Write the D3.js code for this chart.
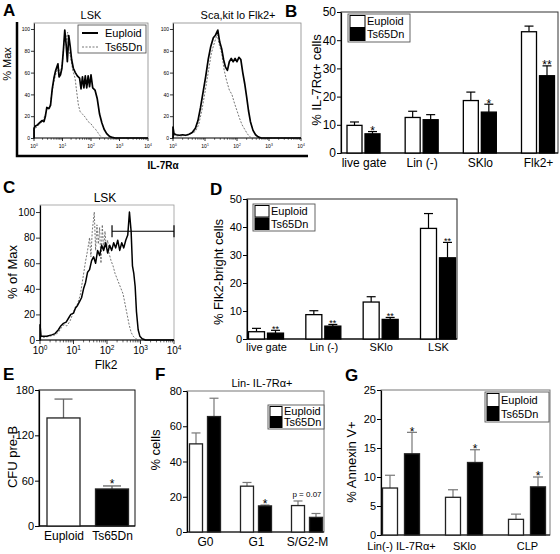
<!DOCTYPE html>
<html><head><meta charset="utf-8">
<script src="https://cdn.jsdelivr.net/npm/d3@7"></script>
<style>body{margin:0;background:#fff}svg{display:block;font-family:"Liberation Sans",Arial,sans-serif}</style>
</head><body>
<script>
// ---------------- DATA ----------------
// Panel A histograms: [log10(intensity), % of max]
const aLskEuploid = [[0,0],[0,9],[0.05,11],[0.12,12],[0.2,14],[0.28,16],[0.35,15],[0.4,20],[0.45,28],[0.52,27],[0.58,30],[0.64,45],[0.7,55],[0.76,62],[0.84,68],[0.88,56],[0.93,58],[0.98,64],[1.03,80],[1.08,99],[1.13,85],[1.17,70],[1.22,94],[1.27,84],[1.32,72],[1.38,64],[1.45,60],[1.52,57],[1.6,55],[1.65,45],[1.7,56],[1.75,46],[1.8,57],[1.85,46],[1.9,57],[1.95,47],[2.0,58],[2.06,46],[2.14,44],[2.22,36],[2.3,22],[2.38,14],[2.46,8],[2.55,4],[2.65,1.5],[2.75,0.5],[2.85,0],[4,0]];
const aLskTs65Dn = [[0,0],[0,8],[0.1,10],[0.2,13],[0.3,15],[0.4,22],[0.45,26],[0.55,27],[0.62,40],[0.7,52],[0.78,60],[0.85,65],[0.92,58],[1.0,70],[1.06,90],[1.12,88],[1.18,97],[1.22,80],[1.28,75],[1.36,62],[1.44,55],[1.5,42],[1.56,30],[1.62,24],[1.7,22],[1.8,19],[1.9,15],[2.0,13],[2.08,10],[2.16,8],[2.24,5],[2.3,2.5],[2.4,0.5],[2.5,0],[4,0]];
const aFlkEuploid = [[0,0],[0,10],[0.03,4],[0.1,3],[0.2,2.5],[0.3,3],[0.4,2.5],[0.5,3.5],[0.6,5],[0.7,9],[0.78,16],[0.86,28],[0.94,42],[1.02,56],[1.1,72],[1.18,84],[1.26,92],[1.32,94],[1.4,99],[1.46,88],[1.52,82],[1.58,72],[1.64,65],[1.7,62],[1.76,70],[1.82,73],[1.88,70],[1.94,73],[2.0,70],[2.06,74],[2.12,72],[2.18,60],[2.24,50],[2.3,38],[2.36,25],[2.42,15],[2.5,7],[2.58,3],[2.66,1],[2.76,0],[4,0]];
const aFlkTs65Dn = [[0,0],[0,3],[0.1,2],[0.3,2],[0.5,3],[0.7,6],[0.8,12],[0.9,25],[1.0,42],[1.1,60],[1.2,78],[1.3,88],[1.38,95],[1.45,85],[1.52,78],[1.6,62],[1.68,52],[1.76,44],[1.84,40],[1.92,32],[2.0,25],[2.08,18],[2.16,12],[2.24,8],[2.32,4],[2.4,1],[2.5,0],[4,0]];
// Panel C histograms
const cLskEuploid = [[0,0],[0,12],[0.03,3],[0.2,3],[0.35,4],[0.45,5],[0.55,8],[0.62,11],[0.7,13],[0.78,14],[0.85,17],[0.92,20],[1.0,21],[1.06,25],[1.12,27],[1.18,30],[1.24,33],[1.3,40],[1.36,45],[1.42,53],[1.48,55],[1.54,62],[1.6,65],[1.66,60],[1.72,70],[1.78,66],[1.84,74],[1.9,70],[1.96,76],[2.02,68],[2.08,74],[2.14,70],[2.2,76],[2.26,72],[2.32,78],[2.38,70],[2.44,76],[2.5,72],[2.56,78],[2.62,82],[2.67,100],[2.72,85],[2.76,58],[2.8,52],[2.84,42],[2.88,22],[2.93,8],[2.98,3],[3.05,1],[3.15,0],[4,0]];
const cLskTs65Dn = [[0,0],[0,3],[0.1,2],[0.3,3],[0.45,4],[0.55,6],[0.65,10],[0.72,12],[0.8,11],[0.9,15],[1.0,22],[1.06,26],[1.12,28],[1.2,35],[1.28,48],[1.35,60],[1.42,70],[1.48,80],[1.52,65],[1.56,85],[1.62,100],[1.66,70],[1.7,90],[1.74,75],[1.78,88],[1.82,60],[1.86,90],[1.9,70],[1.94,85],[1.98,72],[2.02,78],[2.06,68],[2.12,62],[2.18,58],[2.24,52],[2.3,48],[2.36,44],[2.42,40],[2.48,36],[2.54,28],[2.6,20],[2.66,12],[2.72,6],[2.78,3],[2.86,1],[2.95,0],[4,0]];
const cGate = [2.15, 4, 85];           // gate: from log, to log, at %
const histYTicks = [0, 20, 40, 60, 80, 100];
const histXTicks = [0, 1, 2, 3, 4];

// Panel B
const bCategories = ["live gate", "Lin (-)", "SKlo", "Flk2+"];
const bEuploid = [9.8, 12.6, 18.6, 43];
const bEuploidErr = [1.2, 2.2, 3.0, 2.0];
const bTs65Dn = [6.8, 11.8, 14.5, 27.4];
const bTs65DnErr = [0.8, 1.8, 2.8, 3.5];
const bStars = ["*", "", "*", "**"];
const bTicks = [0, 10, 20, 30, 40, 50];

// Panel D
const dCategories = ["live gate", "Lin (-)", "SKlo", "LSK"];
const dEuploid = [2.6, 8.7, 13.2, 39.5];
const dEuploidErr = [1.2, 1.4, 1.9, 5.3];
const dTs65Dn = [2.1, 4.6, 7.0, 29.0];
const dTs65DnErr = [1.0, 0.6, 0.7, 5.5];
const dStars = ["**", "**", "**", "**"];
const dTicks = [0, 10, 20, 30, 40, 50];

// Panel E
const eCategories = ["Euploid", "Ts65Dn"];
const eValues = [143, 49];
const eErr = [25, 4];
const eStars = ["", "*"];
const eTicks = [0, 60, 120, 180];

// Panel F
const fCategories = ["G0", "G1", "S/G2-M"];
const fEuploid = [50, 26, 15];
const fEuploidErr = [6.2, 2.1, 2.6];
const fTs65Dn = [65.5, 14.8, 8.3];
const fTs65DnErr = [10.4, 0.5, 2.2];
const fNotes = ["", "*", "p = 0.07"];
const fTicks = [0, 20, 40, 60, 80];

// Panel G
const gCategories = ["Lin(-) IL-7R\u03b1+", "SKlo", "CLP"];
const gEuploid = [8.1, 6.5, 2.7];
const gEuploidErr = [2.2, 1.3, 0.9];
const gTs65Dn = [14.0, 12.5, 8.3];
const gTs65DnErr = [3.7, 2.2, 1.7];
const gStars = ["*", "*", "*"];
const gTicks = [0, 5, 10, 15, 20, 25];

const legendNames = ["Euploid", "Ts65Dn"];

// ---------------- DRAW ----------------
const W = 560, H = 554;
const svg = d3.select("body").append("svg").attr("width", W).attr("height", H);
svg.append("rect").attr("width", W).attr("height", H).attr("fill", "#fff");

function txt(g, x, y, s, size, opts = {}) {
  const t = g.append("text").attr("x", x).attr("y", y).text(s)
    .attr("font-size", size).attr("fill", opts.fill || "#000")
    .attr("text-anchor", opts.anchor || "start");
  if (opts.bold) t.attr("font-weight", "bold");
  if (opts.rotate) t.attr("transform", `rotate(-90,${x},${y})`);
  return t;
}

// panel letters
[["A", 3, 16], ["B", 285, 17], ["C", 3, 193], ["D", 210, 195], ["E", 3, 380], ["F", 155, 380], ["G", 345, 381]]
  .forEach(([l, x, y]) => txt(svg, x, y, l, 17, { bold: true }));

// ---- histogram panel ----
function histPanel(o) {
  const g = svg.append("g");
  const x = d3.scaleLinear().domain([0, 4]).range([o.left, o.right]);
  const y = d3.scaleLinear().domain([0, 105.5]).range([o.bottom, o.top]);
  g.append("rect").attr("x", o.left).attr("y", o.top).attr("width", o.right - o.left)
    .attr("height", o.bottom - o.top).attr("fill", "none").attr("stroke", o.frameColor).attr("stroke-width", 0.8);
  const ya = g.append("g").attr("transform", `translate(${o.left},0)`)
    .call(d3.axisLeft(y).tickValues(histYTicks).tickSize(o.tick).tickSizeOuter(0).tickPadding(1));
  ya.selectAll("text").attr("font-size", o.yFont).attr("font-family", "Liberation Sans, Arial, sans-serif");
  ya.select(".domain").attr("stroke", "#000").attr("stroke-width", o.axisW);
  ya.selectAll(".tick line").attr("stroke-width", 0.8);
  const minor = [];
  for (let n = 0; n < 4; n++) for (let k = 2; k <= 9; k++) minor.push(n + Math.log10(k));
  g.selectAll(null).data(minor).join("line")
    .attr("x1", d => x(d)).attr("x2", d => x(d)).attr("y1", o.bottom).attr("y2", o.bottom + o.tick * 0.6)
    .attr("stroke", "#000").attr("stroke-width", 0.6);
  g.selectAll(null).data(histXTicks).join("line")
    .attr("x1", d => x(d)).attr("x2", d => x(d)).attr("y1", o.bottom).attr("y2", o.bottom + o.tick)
    .attr("stroke", "#000").attr("stroke-width", 0.8);
  g.append("line").attr("x1", o.left).attr("x2", o.right).attr("y1", o.bottom).attr("y2", o.bottom)
    .attr("stroke", "#000").attr("stroke-width", o.axisW);
  histXTicks.forEach(d => {
    const t = g.append("text").attr("x", x(d)).attr("y", o.bottom + o.xLabOff).attr("text-anchor", "middle")
      .attr("font-size", o.xFont);
    t.append("tspan").text("10");
    t.append("tspan").text(d).attr("font-size", o.xFont * 0.65).attr("dy", -o.xFont * 0.4);
  });
  const line = d3.line().x(d => x(d[0])).y(d => y(d[1]));
  g.append("path").datum(o.dashed).attr("d", line).attr("fill", "none")
    .attr("stroke", "#666").attr("stroke-width", 0.9).attr("stroke-dasharray", "2,1.5");
  g.append("path").datum(o.solid).attr("d", line).attr("fill", "none")
    .attr("stroke", "#000").attr("stroke-width", o.solidW).attr("stroke-linejoin", "round");
  return { g, x, y };
}

// Panel A
const A1 = histPanel({ left: 34, right: 148, top: 23, bottom: 138, frameColor: "#888", tick: 3, axisW: 0.8,
  yFont: 5, xFont: 5, xLabOff: 10, solid: aLskEuploid, dashed: aLskTs65Dn, solidW: 1.7 });
const A2 = histPanel({ left: 173, right: 301, top: 23, bottom: 138, frameColor: "#888", tick: 3, axisW: 0.8,
  yFont: 5, xFont: 5, xLabOff: 10, solid: aFlkEuploid, dashed: aFlkTs65Dn, solidW: 1.7 });
txt(svg, 91, 19, "LSK", 11, { anchor: "middle" });
txt(svg, 238, 19, "Sca,kit lo Flk2+", 11, { anchor: "middle" });
svg.append("path").attr("d", "M17,22V156H308").attr("fill", "none").attr("stroke", "#000").attr("stroke-width", 2.5);
txt(svg, 11, 64, "% Max", 11, { anchor: "middle", rotate: true });
txt(svg, 163, 169, "IL-7R\u03b1", 10, { anchor: "middle", bold: true });
{
  const lg = svg.append("g");
  lg.append("rect").attr("x", 78).attr("y", 25).attr("width", 68).attr("height", 28)
    .attr("fill", "#fff").attr("stroke", "#444").attr("stroke-width", 0.8);
  lg.append("line").attr("x1", 82).attr("x2", 98).attr("y1", 33).attr("y2", 33).attr("stroke", "#000").attr("stroke-width", 2);
  lg.append("line").attr("x1", 82).attr("x2", 98).attr("y1", 47).attr("y2", 47).attr("stroke", "#666")
    .attr("stroke-width", 0.9).attr("stroke-dasharray", "2,1.5");
  txt(lg, 105, 37, legendNames[0], 11);
  txt(lg, 105, 51, legendNames[1], 11);
}

// Panel C
const C = histPanel({ left: 40, right: 174, top: 205, bottom: 340, frameColor: "#999", tick: 4, axisW: 1.2,
  yFont: 10, xFont: 10, xLabOff: 14, solid: cLskEuploid, dashed: cLskTs65Dn, solidW: 1.5 });
C.g.append("path").attr("d",
  `M${C.x(cGate[0])},${C.y(cGate[2]) - 6}V${C.y(cGate[2]) + 6}M${C.x(cGate[0])},${C.y(cGate[2])}H${C.x(cGate[1])}M${C.x(cGate[1])},${C.y(cGate[2]) - 6}V${C.y(cGate[2]) + 6}`)
  .attr("stroke", "#000").attr("stroke-width", 1.2).attr("fill", "none");
txt(svg, 105, 202, "LSK", 12, { anchor: "middle" });
txt(svg, 17, 272, "% of Max", 13, { anchor: "middle", rotate: true });
txt(svg, 106, 369, "Flk2", 12, { anchor: "middle" });

// ---- bar panel ----
function legend(g, x, y, w, h, font, sw) {
  g.append("rect").attr("x", x).attr("y", y).attr("width", w).attr("height", h)
    .attr("fill", "#fff").attr("stroke", "#555").attr("stroke-width", 0.9);
  const rowH = (h - 2) / 2;
  [0, 1].forEach(i => {
    g.append("rect").attr("x", x + 2).attr("y", y + 1.5 + i * rowH).attr("width", sw).attr("height", rowH - 1)
      .attr("fill", i ? "#000" : "#fff").attr("stroke", "#000").attr("stroke-width", 1);
    txt(g, x + sw + 4, y + 1 + i * rowH + rowH / 2 + font * 0.36, legendNames[i], font);
  });
}

function barPanel(o) {
  const g = svg.append("g");
  const y = d3.scaleLinear().domain([0, o.yMax]).range([o.y0, o.yTop]);
  const x = d3.scalePoint().domain(o.cats).range(o.centers);
  g.append("rect").attr("x", o.axisX).attr("y", o.yTop).attr("width", o.right - o.axisX)
    .attr("height", o.y0 - o.yTop).attr("fill", "none").attr("stroke", o.frame).attr("stroke-width", 1);
  const ya = g.append("g").attr("transform", `translate(${o.axisX},0)`)
    .call(d3.axisLeft(y).tickValues(o.ticks).tickSize(4).tickSizeOuter(0).tickPadding(1));
  ya.selectAll("text").attr("font-size", o.tickFont).attr("font-family", "Liberation Sans, Arial, sans-serif").attr("fill", "#000");
  ya.select(".domain").attr("stroke", "#000").attr("stroke-width", 1.2);
  ya.selectAll(".tick line").attr("stroke", "#000");
  g.append("line").attr("x1", o.axisX).attr("x2", o.right).attr("y1", o.y0).attr("y2", o.y0)
    .attr("stroke", "#000").attr("stroke-width", 1.2);
  const xa = g.append("g").attr("transform", `translate(0,${o.y0})`)
    .call(d3.axisBottom(x).tickSize(0).tickPadding(o.xPad));
  xa.select(".domain").remove();
  xa.selectAll("text").attr("font-size", o.xFont).attr("font-family", "Liberation Sans, Arial, sans-serif").attr("fill", "#000");
  o.series.forEach(s => {
    const bx = c => s.pos === 0 ? x(c) - o.gap / 2 - o.bw : x(c) + o.gap / 2;
    o.cats.forEach((c, i) => {
      const v = s.vals[i], e = s.errs[i];
      const cx = bx(c) + o.bw / 2;
      g.append("line").attr("x1", cx).attr("x2", cx).attr("y1", y(v)).attr("y2", y(v + e))
        .attr("stroke", o.errColor).attr("stroke-width", 1.2);
      g.append("line").attr("x1", cx - o.cap / 2).attr("x2", cx + o.cap / 2).attr("y1", y(v + e)).attr("y2", y(v + e))
        .attr("stroke", o.errColor).attr("stroke-width", 1.2);
      g.append("rect").attr("x", bx(c)).attr("y", y(v)).attr("width", o.bw).attr("height", y(0) - y(v))
        .attr("fill", s.fill).attr("stroke", o.barStroke).attr("stroke-width", 1.3);
      if (s.stars && s.stars[i]) txt(g, cx, y(v + e) - 2 + o.starFont * 0.45, s.stars[i], o.starFont, { anchor: "middle" });
    });
  });
  return { g, x, y };
}

// Panel B
const B = barPanel({ cats: bCategories, axisX: 341, right: 558, yTop: 12, y0: 153, yMax: 50, ticks: bTicks,
  centers: [363.5, 538], bw: 15, gap: 3, cap: 9, tickFont: 12, xFont: 12, xPad: 5, frame: "#333",
  errColor: "#000", barStroke: "#000", starFont: 12,
  series: [{ pos: 0, vals: bEuploid, errs: bEuploidErr, fill: "#fff" },
           { pos: 1, vals: bTs65Dn, errs: bTs65DnErr, fill: "#000", stars: bStars }] });
legend(B.g, 348, 14, 62, 28, 11, 15);
txt(svg, 321, 80, "% IL-7R\u03b1+ cells", 13, { anchor: "middle", rotate: true });

// Panel D
const D = barPanel({ cats: dCategories, axisX: 247, right: 457, yTop: 199, y0: 339, yMax: 50, ticks: dTicks,
  centers: [266, 438], bw: 16, gap: 3, cap: 9, tickFont: 11, xFont: 11, xPad: 4, frame: "#222",
  errColor: "#000", barStroke: "#000", starFont: 9,
  series: [{ pos: 0, vals: dEuploid, errs: dEuploidErr, fill: "#fff" },
           { pos: 1, vals: dTs65Dn, errs: dTs65DnErr, fill: "#000", stars: dStars }] });
legend(D.g, 253, 204, 62, 27, 11, 14);
txt(svg, 223, 272, "% Flk2-bright cells", 13, { anchor: "middle", rotate: true });

// Panel E (single series, colour per category)
{
  const g = svg.append("g");
  const y = d3.scaleLinear().domain([0, 180]).range([526, 390]);
  const x = d3.scalePoint().domain(eCategories).range([63.5, 112]);
  g.append("rect").attr("x", 39).attr("y", 390).attr("width", 135 - 39).attr("height", 136)
    .attr("fill", "none").attr("stroke", "#111").attr("stroke-width", 1);
  const ya = g.append("g").attr("transform", "translate(39,0)")
    .call(d3.axisLeft(y).tickValues(eTicks).tickSize(4).tickSizeOuter(0).tickPadding(1));
  ya.selectAll("text").attr("font-size", 11).attr("font-family", "Liberation Sans, Arial, sans-serif");
  ya.select(".domain").attr("stroke-width", 1.2);
  const xa = g.append("g").attr("transform", "translate(0,526)")
    .call(d3.axisBottom(x).tickSize(0).tickPadding(5));
  xa.select(".domain").attr("stroke-width", 1.2).attr("d", "M39,0H135");
  xa.selectAll("text").attr("font-size", 12).attr("font-family", "Liberation Sans, Arial, sans-serif");
  const fills = ["#fff", "#000"];
  const bw = 33;
  eCategories.forEach((c, i) => {
    const cx = x(c);
    g.append("line").attr("x1", cx).attr("x2", cx).attr("y1", y(eValues[i])).attr("y2", y(eValues[i] + eErr[i]))
      .attr("stroke", "#666").attr("stroke-width", 1.3);
    g.append("line").attr("x1", cx - 9).attr("x2", cx + 9).attr("y1", y(eValues[i] + eErr[i])).attr("y2", y(eValues[i] + eErr[i]))
      .attr("stroke", "#666").attr("stroke-width", 1.3);
    g.append("rect").attr("x", cx - bw / 2).attr("y", y(eValues[i])).attr("width", bw).attr("height", y(0) - y(eValues[i]))
      .attr("fill", fills[i]).attr("stroke", "#222").attr("stroke-width", 1.3);
    if (eStars[i]) txt(g, cx, y(eValues[i] + eErr[i]) - 3 + 5, eStars[i], 12, { anchor: "middle" });
  });
  txt(svg, 17, 457, "CFU pre-B", 13, { anchor: "middle", rotate: true });
}

// Panel F
const F = barPanel({ cats: fCategories, axisX: 187, right: 324, yTop: 391, y0: 532, yMax: 80, ticks: fTicks,
  centers: [205, 307], bw: 13, gap: 5, cap: 9, tickFont: 11, xFont: 12, xPad: 5, frame: "#777",
  errColor: "#777", barStroke: "#222", starFont: 12,
  series: [{ pos: 0, vals: fEuploid, errs: fEuploidErr, fill: "#fff" },
           { pos: 1, vals: fTs65Dn, errs: fTs65DnErr, fill: "#000", stars: ["", "*", ""] }] });
legend(F.g, 268, 405, 56, 24, 11, 12);
txt(F.g, F.x(fCategories[2]), F.y(fEuploid[2] + fEuploidErr[2]) - 4, fNotes[2], 8, { anchor: "middle" });
txt(svg, 160, 450, "% cells", 13, { anchor: "middle", rotate: true });
txt(svg, 262, 387, "Lin- IL-7R\u03b1+", 11, { anchor: "middle" });

// Panel G
const G = barPanel({ cats: gCategories, axisX: 381, right: 550, yTop: 390, y0: 535, yMax: 25, ticks: gTicks,
  centers: [401, 527], bw: 15, gap: 7, cap: 10, tickFont: 11, xFont: 11, xPad: 7, frame: "#777",
  errColor: "#777", barStroke: "#222", starFont: 12,
  series: [{ pos: 0, vals: gEuploid, errs: gEuploidErr, fill: "#fff" },
           { pos: 1, vals: gTs65Dn, errs: gTs65DnErr, fill: "#000", stars: gStars }] });
legend(G.g, 485, 392, 64, 30, 11, 12);
txt(svg, 356, 462, "% Annexin V+", 13, { anchor: "middle", rotate: true });
</script>
</body></html>
